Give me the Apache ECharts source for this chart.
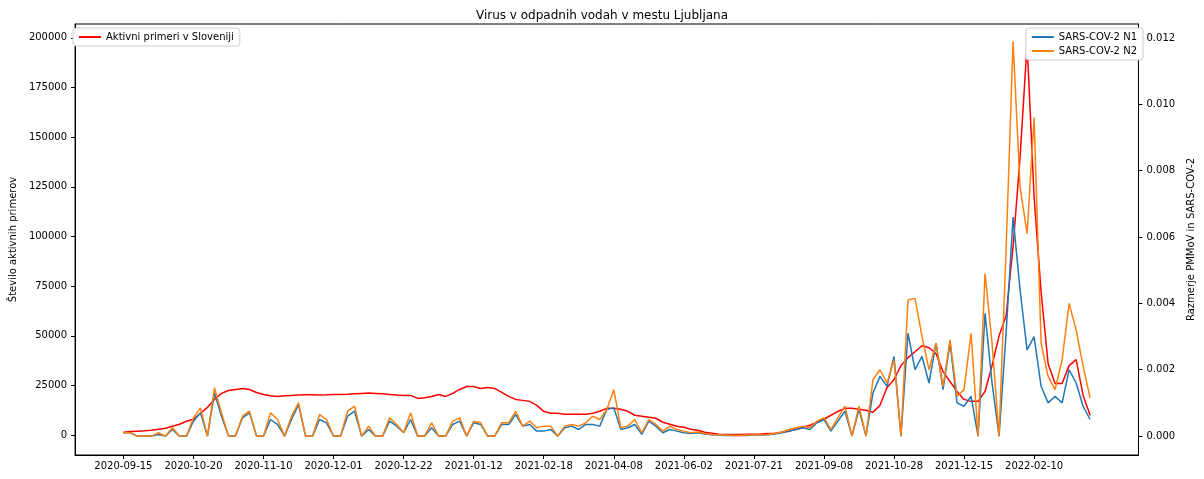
<!DOCTYPE html>
<html><head><meta charset="utf-8">
<script src="https://cdn.jsdelivr.net/npm/echarts@6/dist/echarts.min.js"></script>
<style>body{margin:0}#c{width:1204px;height:479px}</style>
</head><body><div id="c"></div>
<script>
// tick labels, one every 10 samples
var tickDates = ['2020-09-15','2020-10-20','2020-11-10','2020-12-01','2020-12-22','2021-01-12','2021-02-18',
    '2021-04-08','2021-06-02','2021-07-21','2021-09-08','2021-10-28','2021-12-15','2022-02-10'];
// active cases (thousands)
var aktivni = [1.5,1.8,2,2.2,2.5,3,3.5,4.5,5.5,7,
    8,11,14,18,21,22.5,23,23.5,23,21.5,
    20.5,19.8,19.5,19.8,20,20.2,20.3,20.3,20.2,20.3,
    20.5,20.5,20.6,20.8,21,21.2,21,20.8,20.5,20.2,
    20,20,18.5,18.8,19.5,20.5,19.5,21,23,24.5,
    24.5,23.5,24,23.5,21.5,19.5,18,17.5,17,15,
    12,11,11,10.5,10.5,10.5,10.5,11,12,13.5,
    13.5,13,12,10,9.5,9,8.5,6.5,5.5,4.5,
    4,3,2.5,1.5,1,0.5,0.3,0.3,0.3,0.5,
    0.5,0.6,0.8,1,1.5,2,3,4,5,6.5,
    8,10,12,13.5,13.5,13,12.5,11.5,15,24,
    28,35,39,42,45,44,41,32,27,22,
    18,17,17,22,35,50,60,95,140,197,
    120,72,36,26,26,35,38,20,10];
// PMMoV ratio (x 0.001)
var n1 = [0.1,0.1,0,0,0,0.05,0,0.2,0,0,
    0.45,0.7,0,1.3,0.6,0,0,0.55,0.7,0,
    0,0.5,0.35,0,0.5,0.95,0,0,0.5,0.4,
    0,0,0.6,0.75,0,0.2,0,0,0.45,0.3,
    0.1,0.5,0,0,0.25,0,0,0.35,0.45,0,
    0.4,0.35,0,0,0.35,0.35,0.65,0.3,0.35,0.15,
    0.15,0.2,0,0.25,0.3,0.2,0.35,0.35,0.3,0.8,
    0.85,0.2,0.25,0.35,0.05,0.45,0.3,0.1,0.2,0.15,
    0.1,0.08,0.1,0.06,0.04,0.03,0.02,0.02,0.02,0.02,
    0.03,0.03,0.04,0.06,0.1,0.15,0.2,0.25,0.2,0.4,
    0.5,0.15,0.45,0.75,0,0.8,0,1.3,1.8,1.5,
    2.4,0,3.1,2.0,2.4,1.6,2.8,1.4,2.8,1.0,
    0.9,1.2,0,3.7,1.6,0,3.1,6.6,4.4,2.6,
    3.0,1.5,1.0,1.2,1.0,2.0,1.6,0.9,0.5];
var n2 = [0.1,0.1,0,0,0,0.1,0,0.25,0,0,
    0.55,0.85,0,1.45,0.7,0,0,0.6,0.75,0,
    0,0.7,0.5,0,0.6,1.0,0,0,0.65,0.5,
    0,0,0.75,0.9,0,0.3,0,0,0.55,0.35,
    0.1,0.7,0,0,0.4,0,0,0.45,0.55,0,
    0.45,0.4,0,0,0.4,0.4,0.75,0.3,0.45,0.25,
    0.3,0.3,0,0.3,0.35,0.3,0.4,0.6,0.5,0.8,
    1.4,0.25,0.3,0.5,0.1,0.5,0.35,0.15,0.3,0.2,
    0.15,0.1,0.12,0.08,0.05,0.04,0.03,0.02,0.02,0.03,
    0.03,0.04,0.05,0.08,0.12,0.2,0.25,0.3,0.25,0.45,
    0.55,0.2,0.55,0.9,0,0.9,0,1.7,2.0,1.6,
    2.3,0,4.1,4.15,3.0,2.0,2.8,1.5,2.9,1.2,
    1.4,3.1,0,4.9,2.8,0,5.6,11.9,7.5,6.1,
    9.6,2.8,1.8,1.4,2.3,4.0,3.2,2.1,1.15];

function pairs(arr, k) {
    return arr.map(function (v, i) { return [i, v * k]; });
}
var xTicks = tickDates.map(function (d, i) { return i * 10; });
var leftTicks = [0,25000,50000,75000,100000,125000,150000,175000,200000];
var rightTicks = [0,0.002,0.004,0.006,0.008,0.010,0.012];
var font = 'DejaVu Sans';
var lineBlack = {show: true, onZero: false, lineStyle: {color: '#000'}};
var chart = echarts.init(document.getElementById('c'));
chart.setOption({
    animation: false,
    textStyle: {fontFamily: font},
    title: {text: 'Virus v odpadnih vodah v mestu Ljubljana', left: 'center', top: 5,
        textStyle: {fontFamily: font, fontSize: 12, fontWeight: 'normal', color: '#000'}},
    grid: {left: 68, right: 56, top: 24, bottom: 24, show: true, borderColor: '#000', borderWidth: 1},
    legend: [
        {data: ['Aktivni primeri v Sloveniji'], left: 73, top: 28, orient: 'vertical',
            backgroundColor: '#fff', borderColor: '#ccc', borderWidth: 1, borderRadius: 3, padding: [4, 6],
            itemWidth: 22, itemHeight: 2, textStyle: {fontSize: 10, color: '#000'}, icon: 'rect'},
        {data: ['SARS-COV-2 N1', 'SARS-COV-2 N2'], right: 61, top: 28, orient: 'vertical', itemGap: 4,
            backgroundColor: '#fff', borderColor: '#ccc', borderWidth: 1, borderRadius: 3, padding: [4, 6],
            itemWidth: 22, itemHeight: 2, textStyle: {fontSize: 10, color: '#000'}, icon: 'rect'}
    ],
    xAxis: {
        type: 'value', min: -6.9, max: 144.9, axisLine: lineBlack, splitLine: {show: false},
        axisTick: {show: true, length: 4, customValues: xTicks, lineStyle: {color: '#000'}},
        axisLabel: {customValues: xTicks, fontSize: 10, color: '#000', margin: 6,
            formatter: function (v) { return tickDates[Math.round(v / 10)]; }}
    },
    yAxis: [
        {
            type: 'value', min: -10000, max: 207000, name: 'Število aktivnih primerov',
            nameLocation: 'middle', nameGap: 55, nameRotate: 90,
            nameTextStyle: {fontSize: 10, color: '#000'},
            axisLine: lineBlack, splitLine: {show: false},
            axisTick: {show: true, length: 4, customValues: leftTicks, lineStyle: {color: '#000'}},
            axisLabel: {customValues: leftTicks, fontSize: 10, color: '#000',
                formatter: function (v) { return String(v); }}
        },
        {
            type: 'value', min: -0.00057, max: 0.01242, name: 'Razmerje PMMoV in SARS-COV-2',
            nameLocation: 'middle', nameGap: 40, nameRotate: 90, position: 'right',
            nameTextStyle: {fontSize: 10, color: '#000'},
            axisLine: lineBlack, splitLine: {show: false},
            axisTick: {show: true, length: 4, customValues: rightTicks, lineStyle: {color: '#000'}},
            axisLabel: {customValues: rightTicks, fontSize: 10, color: '#000',
                formatter: function (v) { return v.toFixed(3); }}
        }
    ],
    series: [
        {name: 'Aktivni primeri v Sloveniji', type: 'line', yAxisIndex: 0, data: pairs(aktivni, 1000),
            showSymbol: false, lineStyle: {color: 'red', width: 1.5}, itemStyle: {color: 'red'}},
        {name: 'SARS-COV-2 N1', type: 'line', yAxisIndex: 1, data: pairs(n1, 0.001),
            showSymbol: false, lineStyle: {color: '#1f77b4', width: 1.5}, itemStyle: {color: '#1f77b4'}},
        {name: 'SARS-COV-2 N2', type: 'line', yAxisIndex: 1, data: pairs(n2, 0.001),
            showSymbol: false, lineStyle: {color: '#ff7f0e', width: 1.5}, itemStyle: {color: '#ff7f0e'}}
    ]
});
</script></body></html>
